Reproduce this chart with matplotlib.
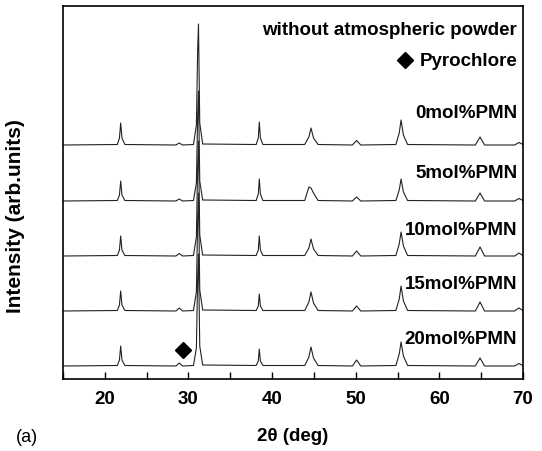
import matplotlib
matplotlib.use('Agg')
import matplotlib.pyplot as plt

plt.rcParams['font.family'] = ['Liberation Sans', 'DejaVu Sans']

# 2theta positions of the traced vertices (shared by all patterns)
two_theta = [15.0, 21.5, 21.75, 21.9, 22.05, 22.4, 28.5, 28.9, 29.3,
             30.6, 30.95, 31.1, 31.2, 31.35, 31.7, 38.1, 38.35, 38.47, 38.6, 38.9,
             43.9, 44.4, 44.65, 44.95, 45.5, 49.6, 50.1, 50.6,
             54.8, 55.2, 55.42, 55.7, 56.2, 64.3, 64.86, 65.4, 69.0, 69.5, 70.0]

# intensities (arb. units) read at those vertices
pmn_0 = [0, 0.5, 7, 22, 7, 0.5, 0, 2, 0, 0.5, 20, 95, 121, 22, 1, 0.5, 7, 23, 7, 0.5,
         0.5, 8, 17, 7, 0.5, 0, 4.5, 0, 0.5, 12, 25, 10, 0.5, 0, 8, 0, 0, 2.5, 0.5]
pmn_5 = [0, 0.5, 6, 20, 6, 0.5, 0, 2, 0, 0.5, 18, 85, 110, 20, 1, 0.5, 7, 22, 7, 0.5,
         0.5, 14, 13, 8, 0.5, 0, 4, 0, 0.5, 11, 22, 9, 0.5, 0, 8, 0, 0, 2.5, 0.5]
pmn_10 = [0, 0.5, 6, 20, 6, 0.5, 0, 2.5, 0, 0.5, 19, 90, 115, 21, 1, 0.5, 6, 20, 6, 0.5,
          0.5, 8, 17, 7, 0.5, 0, 5, 0, 0.5, 12, 24, 10, 0.5, 0, 9, 0, 0, 3, 0.5]
pmn_15 = [0, 0.5, 6, 20, 6, 0.5, 0, 3, 0, 0.5, 19, 92, 118, 21, 1, 0.5, 5, 17, 5, 0.5,
          0.5, 9, 19, 8, 0.5, 0, 5, 0, 0.5, 12, 25, 10, 0.5, 0, 9, 0, 0, 3, 0.5]
pmn_20 = [0, 0.5, 6, 20, 6, 0.5, 0, 3, 0, 0.5, 18, 88, 112, 20, 1, 0.5, 5, 17, 5, 0.5,
          0.5, 9, 19, 8, 0.5, 0, 6, 0, 0.5, 12, 24, 10, 0.5, 0, 8, 0, 0, 2.5, 0.5]

labels = ['0mol%PMN', '5mol%PMN', '10mol%PMN', '15mol%PMN', '20mol%PMN']
offsets = [234, 178, 123, 68, 13]
label_y = [267, 207, 150, 95, 40]

fig, ax = plt.subplots(figsize=(5.42, 4.52), dpi=100)
fig.subplots_adjust(left=0.1162, right=0.965, bottom=0.1593, top=0.9845)

for ys, off, lab, ly in zip([pmn_0, pmn_5, pmn_10, pmn_15, pmn_20], offsets, labels, label_y):
    ax.plot(two_theta, [v + off for v in ys], color='#222222', lw=0.8)
    ax.text(69.3, ly, lab, ha='right', va='center', fontsize=13.5, fontweight='bold')

ax.text(69.3, 350, 'without atmospheric powder', ha='right', va='center',
        fontsize=13.5, fontweight='bold')
ax.plot([55.9], [319], marker='D', color='black', markersize=8, clip_on=False)
ax.text(69.3, 319, 'Pyrochlore', ha='right', va='center', fontsize=13.5, fontweight='bold')

# pyrochlore peak marker
ax.plot([29.3], [29.3], marker='D', color='black', markersize=8)

ax.set_xlim(15, 70)
ax.set_ylim(0, 373)
ax.set_xticks([20, 30, 40, 50, 60, 70])
ax.set_xticks([15, 25, 35, 45, 55, 65], minor=True)
ax.set_yticks([])
ax.tick_params(axis='x', which='both', direction='in', length=5, width=1, pad=8,
               labelsize=13.5)
for t in ax.get_xticklabels():
    t.set_fontweight('bold')
for s in ax.spines.values():
    s.set_linewidth(1.2)

ax.set_xlabel('2θ (deg)', fontsize=13.5, fontweight='bold', labelpad=14)
ax.set_ylabel('Intensity (arb.units)', fontsize=15, fontweight='bold')
ax.yaxis.set_label_coords(-0.083, 0.44)

fig.text(0.0295, 0.031, '(a)', fontsize=13, va='center', ha='left')

fig.savefig('out.png', dpi=100)
